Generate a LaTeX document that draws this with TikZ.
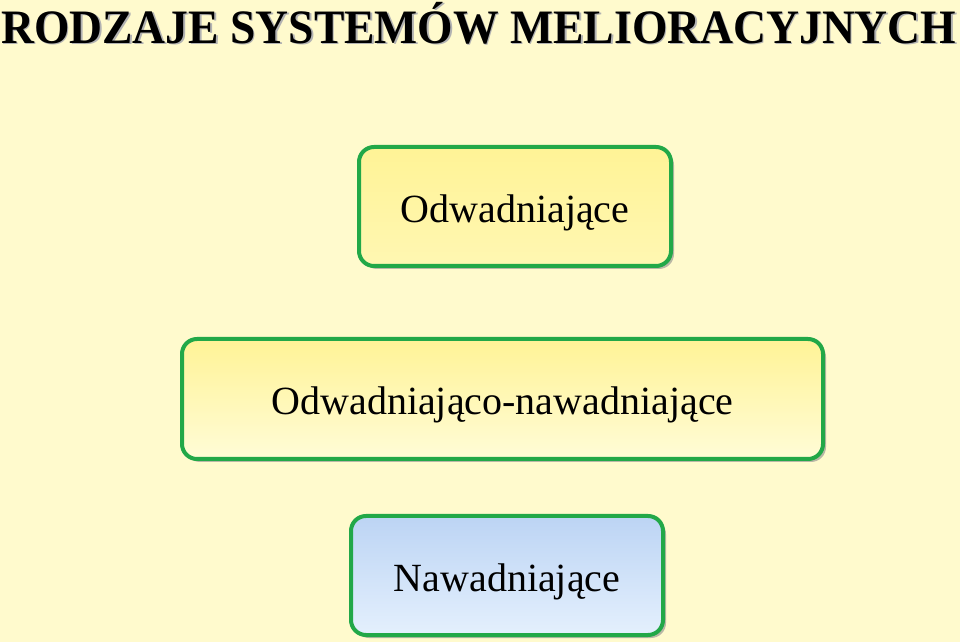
\documentclass[tikz,border=0pt]{standalone}
\usepackage{fontspec}
\setmainfont{Liberation Serif}
\usetikzlibrary{shadows}
\definecolor{bgyel}{RGB}{255,250,205}
\definecolor{boxgreen}{RGB}{34,168,72}
\definecolor{yelA}{RGB}{255,243,150}
\definecolor{yelB}{RGB}{255,247,178}
\definecolor{yelC}{RGB}{255,252,215}
\definecolor{bluA}{RGB}{188,212,244}
\definecolor{bluB}{RGB}{228,240,253}
\tikzset{
  catbox/.style={draw=boxgreen, line width=4pt, rounded corners=15pt,
    inner sep=0pt, align=center, font=\fontsize{40}{44}\selectfont,
    text height=32pt, text depth=0pt,
    drop shadow={shadow xshift=3pt, shadow yshift=-3pt, fill=black!45, opacity=0.6}},
  titletext/.style={font=\fontsize{48}{52}\selectfont\bfseries, inner sep=0pt, anchor=base west}
}
\newcommand{\titlestr}{\scalebox{0.95}[1]{RODZAJE SYSTEMÓW MELIORACYJNYCH}}
\begin{document}
\begin{tikzpicture}[x=1pt,y=1pt]
\fill[bgyel] (0,0) rectangle (960,642);
\useasboundingbox (0,0) rectangle (960,642);
\node[titletext, text=black!30] (titleshadow) at (2.5,597) {\titlestr};
\node[titletext] (title) at (1,598.5) {\titlestr};
\node[catbox, minimum width=312pt, minimum height=119pt, top color=yelA, bottom color=yelB] (odw) at (515,435.5) {Odwadniające};
\node[catbox, minimum width=641pt, minimum height=120pt, top color=yelA, bottom color=yelC] (odwnaw) at (502.5,243) {Odwadniająco-nawadniające};
\node[catbox, minimum width=312pt, minimum height=119pt, top color=bluA, bottom color=bluB] (naw) at (507,66.5) {Nawadniające};
\end{tikzpicture}
\end{document}
